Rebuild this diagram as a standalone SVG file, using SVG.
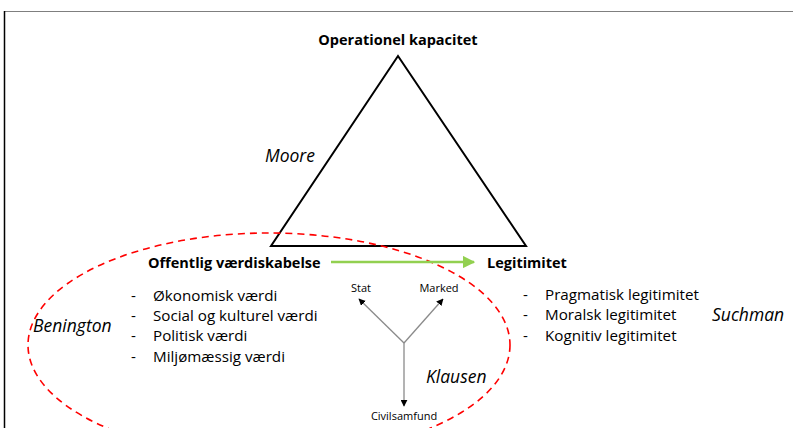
<svg xmlns="http://www.w3.org/2000/svg" width="793" height="428" viewBox="0 0 793 428">
  <defs>
    <style>
      .b { font-family: "Open Sans", "Liberation Sans", sans-serif; font-weight: bold; font-size: 14.5px; fill: #000; }
      .t { font-family: "Open Sans", "Liberation Sans", sans-serif; font-size: 15.2px; fill: #000; }
      .i { font-family: "Open Sans", "Liberation Sans", sans-serif; font-style: italic; font-size: 17.5px; fill: #000; }
      .s { font-family: "Open Sans", "Liberation Sans", sans-serif; font-size: 11px; fill: #000; text-anchor: middle; }
      .y { stroke: #8a8a8a; stroke-width: 1.3; fill: none; marker-end: url(#ah); }
    </style>
    <marker id="ah" viewBox="0 0 10 10" refX="9" refY="5" markerWidth="7" markerHeight="7" markerUnits="userSpaceOnUse" orient="auto">
      <path d="M0,0 L10,5 L0,10 z" fill="#000"/>
    </marker>
    <marker id="gh" viewBox="0 0 10 10" refX="9" refY="5" markerWidth="5" markerHeight="5" orient="auto">
      <path d="M0,0 L10,5 L0,10 z" fill="#92d050"/>
    </marker>
  </defs>
  <rect width="793" height="428" fill="#fff"/>
  <!-- frame -->
  <line x1="4" y1="11.5" x2="793" y2="11.5" stroke="#7f7f7f" stroke-width="1"/>
  <line x1="4.5" y1="11" x2="4.5" y2="428" stroke="#000" stroke-width="1.5"/>

  <g id="triangle">
    <polygon points="398,56 526,246 271,246" fill="none" stroke="#000" stroke-width="2"/>
  </g>

  <g id="benington-ellipse">
    <ellipse cx="269" cy="345" rx="241" ry="112" fill="none" stroke="#ff0000" stroke-width="1.6" stroke-dasharray="7,5"/>
  </g>

  <g id="connectors">
    <line x1="331" y1="262" x2="474" y2="262" stroke="#92d050" stroke-width="2.5" marker-end="url(#gh)"/>
    <line class="y" x1="404" y1="343" x2="359" y2="299"/>
    <line class="y" x1="404" y1="343" x2="443" y2="299"/>
    <line class="y" x1="404" y1="343" x2="404" y2="406"/>
  </g>

  <g id="operationel">
    <text class="b" x="398" y="45" text-anchor="middle">Operationel kapacitet</text>
  </g>
  <g id="moore">
    <text class="i" x="265" y="162">Moore</text>
  </g>
  <g id="offentlig">
    <text class="b" x="148" y="268">Offentlig værdiskabelse</text>
    <text class="t" x="131" y="301">-</text>
    <text class="t" x="153" y="301">Økonomisk værdi</text>
    <text class="t" x="131" y="321">-</text>
    <text class="t" x="153" y="321">Social og kulturel værdi</text>
    <text class="t" x="131" y="341">-</text>
    <text class="t" x="153" y="341">Politisk værdi</text>
    <text class="t" x="131" y="362">-</text>
    <text class="t" x="153" y="362">Miljømæssig værdi</text>
  </g>
  <g id="benington">
    <text class="i" x="33" y="332">Benington</text>
  </g>
  <g id="legitimitet">
    <text class="b" x="487" y="268">Legitimitet</text>
    <text class="t" x="523" y="300">-</text>
    <text class="t" x="545" y="300">Pragmatisk legitimitet</text>
    <text class="t" x="523" y="320">-</text>
    <text class="t" x="545" y="320">Moralsk legitimitet</text>
    <text class="t" x="523" y="341">-</text>
    <text class="t" x="545" y="341">Kognitiv legitimitet</text>
  </g>
  <g id="suchman">
    <text class="i" x="712" y="321">Suchman</text>
  </g>
  <g id="klausen">
    <text class="i" x="426" y="383">Klausen</text>
    <text class="s" x="361" y="292">Stat</text>
    <text class="s" x="439" y="292">Marked</text>
    <text class="s" x="404" y="420">Civilsamfund</text>
  </g>
</svg>
